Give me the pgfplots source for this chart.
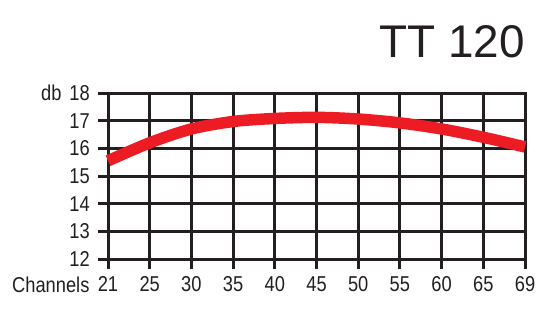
\documentclass[border=0pt]{standalone}
\usepackage{pgfplots}
\pgfplotsset{compat=1.18}
\usepackage{fontspec}
\setmainfont{Liberation Sans}
\newfontfamily\cf{Liberation Sans}[FakeStretch=0.85]
\definecolor{gridc}{HTML}{231F20}
\definecolor{redc}{HTML}{ED1C24}
\newcommand\tf{\cf\fontsize{21.5bp}{24bp}\selectfont}
\begin{document}
\begin{tikzpicture}[x=1bp,y=1bp]
\path[use as bounding box] (0,0) rectangle (551,315);
\begin{axis}[
 at={(108bp,56bp)}, anchor=south west,
 scale only axis, width=417bp, height=166bp,
 xmin=0, xmax=10, ymin=12, ymax=18,
 xtick={0,...,10}, xticklabels={\tf 21,\tf 25,\tf 30,\tf 35,\tf 40,\tf 45,\tf 50,\tf 55,\tf 60,\tf 65,\tf 69},
 ytick={12,...,18}, yticklabels={\tf 12,\tf 13,\tf 14,\tf 15,\tf 16,\tf 17,\tf db\hspace{8bp}18},
 grid=major, grid style={gridc, line width=3bp},
 axis line style={gridc, line width=3bp},
 tick style={gridc, line width=3bp},
 tick align=outside, major tick length=10bp,
 tick pos=left,
 xticklabel style={text=gridc, anchor=base, yshift=-22bp, inner sep=0pt},
 yticklabel style={text=gridc, anchor=east, xshift=-8bp, inner sep=0pt},
 /pgf/number format/assume math mode=true,
 clip=false,
]
\addplot[redc, line width=11.5bp, smooth] coordinates {
(0,15.55) (1,16.2) (2,16.7) (3,16.97) (4,17.08) (5,17.12) (6,17.06) (7,16.92) (8,16.7) (9,16.4) (10,16.05)
};
\end{axis}
\node[anchor=base east, inner sep=0, font=\fontsize{46}{50}\selectfont, text=gridc] at (525,258) {TT 120};
\node[anchor=base west, inner sep=0, font=\tf, text=gridc] at (12,23) {Channels};
\end{tikzpicture}
\end{document}
